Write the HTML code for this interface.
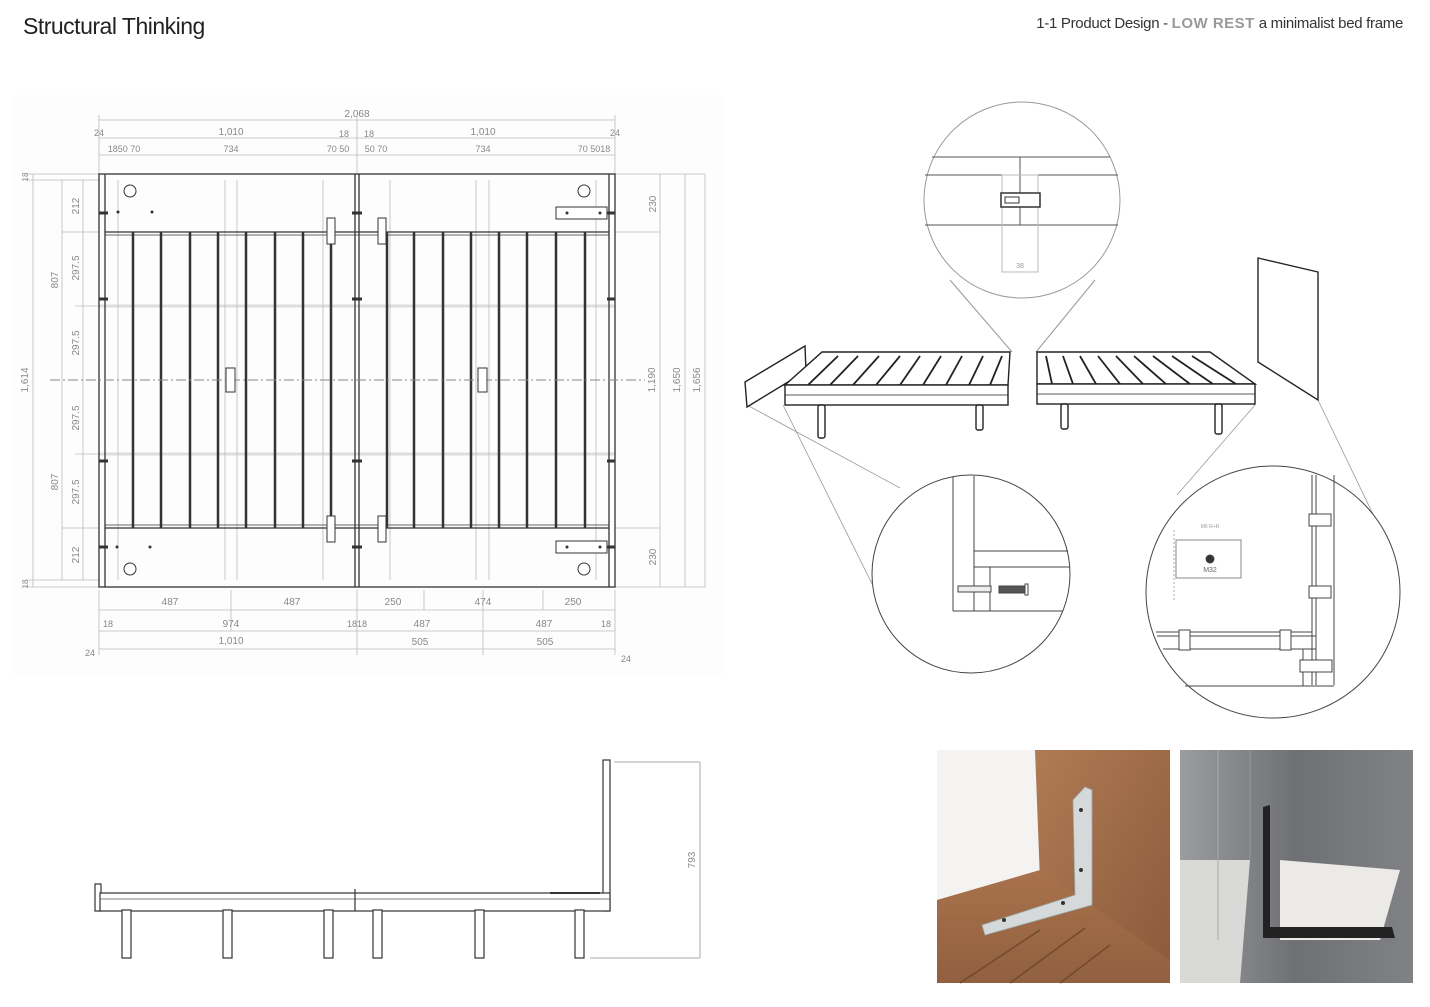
<!DOCTYPE html>
<html><head><meta charset="utf-8"><style>
html,body{margin:0;padding:0;background:#fff;}
body{width:1430px;height:1007px;position:relative;overflow:hidden;font-family:"Liberation Sans",sans-serif;}
.t1{position:absolute;left:23px;top:13px;font-size:23px;color:#222;letter-spacing:-0.5px;}
.t2{position:absolute;right:27px;top:15px;font-size:15px;color:#333;letter-spacing:-0.3px;}
.t2 b{color:#999;font-weight:bold;letter-spacing:0.5px;}
svg{position:absolute;left:0;top:0;}
</style></head><body>
<div class="t1">Structural Thinking</div>
<div class="t2">1-1 Product Design - <b>LOW REST</b> a minimalist bed frame</div>
<svg width="1430" height="1007" viewBox="0 0 1430 1007" font-family="Liberation Sans, sans-serif">
<defs>
<linearGradient id="wood" x1="0" y1="0" x2="1" y2="1"><stop offset="0" stop-color="#b07a55"/><stop offset="1" stop-color="#8a5a3a"/></linearGradient>
<linearGradient id="floor" x1="0" y1="0" x2="0" y2="1"><stop offset="0" stop-color="#a9724c"/><stop offset="1" stop-color="#91603f"/></linearGradient>
<linearGradient id="grey" x1="0" y1="0" x2="1" y2="0"><stop offset="0" stop-color="#9a9c9e"/><stop offset="0.5" stop-color="#6e7073"/><stop offset="1" stop-color="#808285"/></linearGradient>
</defs>
<!-- PLAN VIEW -->
<g fill="none" stroke="#bbb" stroke-width="0.8">
<rect x="12" y="95" width="710" height="580" fill="#fdfdfd" stroke="none"/>
<!-- light grid -->
<line x1="99" y1="306" x2="615" y2="306" stroke="#ddd" stroke-width="3"/>
<line x1="99" y1="454" x2="615" y2="454" stroke="#ddd" stroke-width="3"/>
<line x1="225" y1="180" x2="225" y2="580"/><line x1="237" y1="180" x2="237" y2="580"/>
<line x1="476" y1="180" x2="476" y2="580"/><line x1="489" y1="180" x2="489" y2="580"/>
<line x1="323" y1="180" x2="323" y2="580"/><line x1="390" y1="180" x2="390" y2="580"/>
<line x1="118" y1="180" x2="118" y2="580"/><line x1="596" y1="180" x2="596" y2="580"/>
<!-- dims top -->
<line x1="99" y1="120" x2="615" y2="120"/><text x="357" y="117" font-size="10" fill="#888" stroke="none" text-anchor="middle">2,068</text>
<line x1="99" y1="138" x2="615" y2="138"/>
<line x1="99" y1="155" x2="615" y2="155"/>
<text x="231" y="135" font-size="10" fill="#888" stroke="none" text-anchor="middle">1,010</text>
<text x="483" y="135" font-size="10" fill="#888" stroke="none" text-anchor="middle">1,010</text>
<text x="99" y="136" font-size="9" fill="#888" stroke="none" text-anchor="middle">24</text>
<text x="615" y="136" font-size="9" fill="#888" stroke="none" text-anchor="middle">24</text>
<text x="344" y="137" font-size="9" fill="#888" stroke="none" text-anchor="middle">18</text>
<text x="369" y="137" font-size="9" fill="#888" stroke="none" text-anchor="middle">18</text>
<text x="124" y="152" font-size="9" fill="#888" stroke="none" text-anchor="middle">1850 70</text>
<text x="231" y="152" font-size="9" fill="#888" stroke="none" text-anchor="middle">734</text>
<text x="338" y="152" font-size="9" fill="#888" stroke="none" text-anchor="middle">70 50</text>
<text x="376" y="152" font-size="9" fill="#888" stroke="none" text-anchor="middle">50 70</text>
<text x="483" y="152" font-size="9" fill="#888" stroke="none" text-anchor="middle">734</text>
<text x="594" y="152" font-size="9" fill="#888" stroke="none" text-anchor="middle">70 5018</text>
<line x1="99" y1="115" x2="99" y2="174"/><line x1="615" y1="115" x2="615" y2="174"/><line x1="357" y1="115" x2="357" y2="174"/>
<!-- dims left -->
<line x1="33" y1="174" x2="33" y2="587"/><line x1="62" y1="180" x2="62" y2="580"/><line x1="83" y1="180" x2="83" y2="580"/>
<line x1="25" y1="174" x2="99" y2="174"/><line x1="25" y1="587" x2="99" y2="587"/><line x1="25" y1="180" x2="99" y2="180"/><line x1="25" y1="580" x2="99" y2="580"/>
<line x1="62" y1="232" x2="99" y2="232"/><line x1="62" y1="528" x2="99" y2="528"/><line x1="75" y1="306" x2="99" y2="306"/><line x1="75" y1="454" x2="99" y2="454"/>
<g fill="#888" stroke="none" font-size="10">
<text transform="translate(28,380) rotate(-90)" text-anchor="middle">1,614</text>
<text transform="translate(58,280) rotate(-90)" text-anchor="middle">807</text>
<text transform="translate(58,482) rotate(-90)" text-anchor="middle">807</text>
<text transform="translate(79,206) rotate(-90)" text-anchor="middle">212</text>
<text transform="translate(79,268) rotate(-90)" text-anchor="middle">297.5</text>
<text transform="translate(79,343) rotate(-90)" text-anchor="middle">297.5</text>
<text transform="translate(79,418) rotate(-90)" text-anchor="middle">297.5</text>
<text transform="translate(79,492) rotate(-90)" text-anchor="middle">297.5</text>
<text transform="translate(79,555) rotate(-90)" text-anchor="middle">212</text>
<text transform="translate(28,177) rotate(-90)" text-anchor="middle" font-size="8">18</text>
<text transform="translate(28,584) rotate(-90)" text-anchor="middle" font-size="8">18</text>
<text transform="translate(656,204) rotate(-90)" text-anchor="middle">230</text>
<text transform="translate(656,557) rotate(-90)" text-anchor="middle">230</text>
<text transform="translate(655,380) rotate(-90)" text-anchor="middle">1,190</text>
<text transform="translate(680,380) rotate(-90)" text-anchor="middle">1,650</text>
<text transform="translate(700,380) rotate(-90)" text-anchor="middle">1,656</text>
</g>
<!-- dims right -->
<line x1="660" y1="174" x2="660" y2="587"/><line x1="685" y1="174" x2="685" y2="587"/><line x1="705" y1="174" x2="705" y2="587"/>
<line x1="615" y1="174" x2="705" y2="174"/><line x1="615" y1="587" x2="705" y2="587"/><line x1="615" y1="232" x2="660" y2="232"/><line x1="615" y1="528" x2="660" y2="528"/>
<!-- dims bottom -->
<line x1="99" y1="610" x2="357" y2="610"/><line x1="357" y1="610" x2="615" y2="610"/>
<line x1="99" y1="631" x2="615" y2="631"/><line x1="99" y1="649" x2="615" y2="649"/>
<line x1="99" y1="590" x2="99" y2="655"/><line x1="615" y1="590" x2="615" y2="655"/><line x1="357" y1="590" x2="357" y2="655"/><line x1="231" y1="590" x2="231" y2="631"/><line x1="483" y1="590" x2="483" y2="655"/><line x1="424" y1="590" x2="424" y2="610"/><line x1="543" y1="590" x2="543" y2="610"/>
<g fill="#888" stroke="none" font-size="10" text-anchor="middle">
<text x="170" y="605">487</text><text x="292" y="605">487</text><text x="393" y="605">250</text><text x="483" y="605">474</text><text x="573" y="605">250</text>
<text x="108" y="627" font-size="9">18</text><text x="231" y="627">974</text><text x="357" y="627" font-size="9">1818</text><text x="422" y="627">487</text><text x="544" y="627">487</text><text x="606" y="627" font-size="9">18</text>
<text x="231" y="644">1,010</text><text x="420" y="645">505</text><text x="545" y="645">505</text>
<text x="90" y="656" font-size="9">24</text><text x="626" y="662" font-size="9">24</text>
</g>
</g>
<!-- frame -->
<g fill="none" stroke="#333" stroke-width="1.3">
<rect x="99" y="174" width="516" height="413"/>
<line x1="105" y1="174" x2="105" y2="587"/><line x1="609" y1="174" x2="609" y2="587"/>
<line x1="355" y1="174" x2="355" y2="587"/><line x1="359" y1="174" x2="359" y2="587"/>
<line x1="105" y1="232" x2="609" y2="232"/><line x1="105" y1="235" x2="609" y2="235" stroke-width="0.7"/>
<line x1="105" y1="528" x2="609" y2="528"/><line x1="105" y1="525" x2="609" y2="525" stroke-width="0.7"/>
</g>
<g stroke="#333" stroke-width="2.5">
<line x1="133" y1="232" x2="133" y2="528"/><line x1="161" y1="232" x2="161" y2="528"/><line x1="190" y1="232" x2="190" y2="528"/><line x1="218" y1="232" x2="218" y2="528"/><line x1="246" y1="232" x2="246" y2="528"/><line x1="275" y1="232" x2="275" y2="528"/><line x1="303" y1="232" x2="303" y2="528"/><line x1="331" y1="232" x2="331" y2="528"/>
<line x1="387" y1="232" x2="387" y2="528"/><line x1="414" y1="232" x2="414" y2="528"/><line x1="443" y1="232" x2="443" y2="528"/><line x1="471" y1="232" x2="471" y2="528"/><line x1="499" y1="232" x2="499" y2="528"/><line x1="527" y1="232" x2="527" y2="528"/><line x1="556" y1="232" x2="556" y2="528"/><line x1="585" y1="232" x2="585" y2="528"/>
</g>
<line x1="50" y1="380" x2="645" y2="380" stroke="#888" stroke-width="1" stroke-dasharray="10,3,2,3"/>
<g stroke="#333" stroke-width="1" fill="#fff">
<circle cx="130" cy="191" r="6"/><circle cx="584" cy="191" r="6"/><circle cx="130" cy="569" r="6"/><circle cx="584" cy="569" r="6"/>
<rect x="556" y="207" width="51" height="12"/><rect x="556" y="541" width="51" height="12"/>
<rect x="226" y="368" width="9" height="24"/><rect x="478" y="368" width="9" height="24"/>
<rect x="327" y="218" width="8" height="26"/><rect x="378" y="218" width="8" height="26"/>
<rect x="327" y="516" width="8" height="26"/><rect x="378" y="516" width="8" height="26"/>
</g>
<g stroke="#333" stroke-width="3">
<line x1="99" y1="213" x2="108" y2="213"/><line x1="99" y1="299" x2="108" y2="299"/><line x1="99" y1="461" x2="108" y2="461"/><line x1="99" y1="547" x2="108" y2="547"/>
<line x1="352" y1="213" x2="362" y2="213"/><line x1="352" y1="299" x2="362" y2="299"/><line x1="352" y1="461" x2="362" y2="461"/><line x1="352" y1="547" x2="362" y2="547"/>
<line x1="607" y1="213" x2="615" y2="213"/><line x1="607" y1="299" x2="615" y2="299"/><line x1="607" y1="461" x2="615" y2="461"/><line x1="607" y1="547" x2="615" y2="547"/>
</g>
<g fill="#333"><circle cx="118" cy="212" r="1.5"/><circle cx="152" cy="212" r="1.5"/><circle cx="117" cy="547" r="1.5"/><circle cx="150" cy="547" r="1.5"/><circle cx="567" cy="213" r="1.5"/><circle cx="600" cy="213" r="1.5"/><circle cx="567" cy="547" r="1.5"/><circle cx="600" cy="547" r="1.5"/></g>

<!-- TOP CIRCLE DETAIL -->
<g fill="none" stroke="#999" stroke-width="1">
<line x1="950" y1="280" x2="1012" y2="352"/><line x1="1095" y1="280" x2="1036" y2="352"/>
<circle cx="1022" cy="200" r="98" fill="#fff"/>
</g>
<g fill="none" stroke="#555" stroke-width="1">
<line x1="932" y1="157" x2="1110" y2="157"/><line x1="925" y1="175" x2="1118" y2="175"/><line x1="925" y1="225" x2="1118" y2="225"/>
<line x1="1020" y1="157" x2="1020" y2="225"/>
<rect x="1002" y="175" width="36" height="97" stroke="#bbb"/>
<rect x="1001" y="193" width="39" height="14" stroke="#333" stroke-width="1.5" fill="#fff"/>
<rect x="1005" y="197" width="14" height="6" stroke="#333"/>
</g>
<text x="1020" y="268" font-size="7" fill="#999" text-anchor="middle">38</text>

<!-- PERSPECTIVE -->
<g fill="none" stroke="#999" stroke-width="0.8">
<line x1="747" y1="405" x2="900" y2="488"/><line x1="783" y1="405" x2="900" y2="640"/>
<line x1="1255" y1="405" x2="1177" y2="495"/><line x1="1318" y1="400" x2="1395" y2="560"/>
</g>
<g fill="#fff" stroke="#222" stroke-width="1.4">
<polygon points="745,382 805,346 806,371 747,407"/>
<polygon points="1258,258 1318,272 1318,400 1258,362"/>
<polygon points="822,352 1010,352 1008,385 785,385"/>
<rect x="785" y="385" width="223" height="20"/>
<polygon points="1037,352 1210,352 1255,384 1037,384"/>
<rect x="1037" y="384" width="218" height="20"/>
<rect x="818" y="405" width="7" height="33" rx="2"/><rect x="976" y="405" width="7" height="25" rx="2"/>
<rect x="1061" y="404" width="7" height="25" rx="2"/><rect x="1215" y="404" width="7" height="30" rx="2"/>
</g>
<g stroke="#222" stroke-width="1.8">
<line x1="808" y1="385" x2="838" y2="356"/><line x1="830" y1="385" x2="858" y2="356"/><line x1="853" y1="385" x2="879" y2="356"/><line x1="876" y1="385" x2="900" y2="356"/><line x1="900" y1="385" x2="920" y2="356"/><line x1="923" y1="385" x2="941" y2="356"/><line x1="946" y1="385" x2="962" y2="356"/><line x1="969" y1="385" x2="983" y2="356"/><line x1="990" y1="385" x2="1002" y2="356"/>
<line x1="1046" y1="356" x2="1052" y2="384"/><line x1="1063" y1="356" x2="1073" y2="384"/><line x1="1080" y1="356" x2="1096" y2="384"/><line x1="1098" y1="356" x2="1120" y2="384"/><line x1="1116" y1="356" x2="1143" y2="384"/><line x1="1134" y1="356" x2="1166" y2="384"/><line x1="1153" y1="356" x2="1190" y2="384"/><line x1="1172" y1="356" x2="1213" y2="384"/><line x1="1192" y1="356" x2="1236" y2="384"/>
</g>
<line x1="785" y1="395" x2="1008" y2="395" stroke="#222" stroke-width="0.8"/>
<line x1="1037" y1="394" x2="1255" y2="394" stroke="#222" stroke-width="0.8"/>

<!-- MIDDLE CIRCLE -->
<g fill="none" stroke="#444" stroke-width="1">
<circle cx="971" cy="574" r="99" fill="#fff"/>
<line x1="953" y1="477" x2="953" y2="611"/><line x1="974" y1="476" x2="974" y2="611"/><line x1="990" y1="567" x2="990" y2="611"/>
<line x1="974" y1="551" x2="1068" y2="551"/><line x1="974" y1="567" x2="1070" y2="567"/><line x1="953" y1="611" x2="1063" y2="611"/>
<rect x="958" y="586" width="33" height="6" fill="#eee"/>
<rect x="999" y="586" width="26" height="7" fill="#555"/>
<rect x="1025" y="584" width="3" height="11" fill="#fff"/>
</g>

<!-- RIGHT CIRCLE -->
<g fill="none" stroke="#444" stroke-width="1">
<ellipse cx="1273" cy="592" rx="127" ry="126" fill="#fff"/>
<line x1="1312" y1="475" x2="1312" y2="685"/><line x1="1316" y1="475" x2="1316" y2="685"/><line x1="1334" y1="475" x2="1334" y2="685"/>
<line x1="1156" y1="632" x2="1312" y2="632"/><line x1="1157" y1="636" x2="1316" y2="636"/><line x1="1163" y1="649" x2="1316" y2="649"/>
<line x1="1185" y1="686" x2="1334" y2="686"/><line x1="1303" y1="649" x2="1303" y2="686"/>
<rect x="1176" y="540" width="65" height="38" stroke="#888"/>
<line x1="1174" y1="530" x2="1174" y2="600" stroke="#aaa" stroke-dasharray="2,2"/>
<rect x="1309" y="514" width="22" height="12" fill="#fff"/><rect x="1309" y="586" width="22" height="12" fill="#fff"/><rect x="1300" y="660" width="32" height="12" fill="#fff"/>
<rect x="1179" y="630" width="11" height="20" fill="#fff"/><rect x="1280" y="630" width="11" height="20" fill="#fff"/>
<circle cx="1210" cy="559" r="4" fill="#333"/>
</g>
<text x="1210" y="528" font-size="5" fill="#999" text-anchor="middle">M6 R+R</text>
<text x="1210" y="572" font-size="7" fill="#666" text-anchor="middle">M32</text>

<!-- SIDE VIEW -->
<g fill="#fff" stroke="#333" stroke-width="1.2">
<rect x="95" y="884" width="6" height="27"/>
<rect x="603" y="760" width="7" height="151"/>
<rect x="100" y="893" width="510" height="18"/>
<rect x="122" y="910" width="9" height="48"/><rect x="223" y="910" width="9" height="48"/><rect x="324" y="910" width="9" height="48"/><rect x="373" y="910" width="9" height="48"/><rect x="475" y="910" width="9" height="48"/><rect x="575" y="910" width="9" height="48"/>
</g>
<line x1="100" y1="899" x2="610" y2="899" stroke="#555" stroke-width="0.8"/>
<line x1="355" y1="889" x2="355" y2="911" stroke="#333" stroke-width="1.2"/>
<line x1="550" y1="893" x2="600" y2="893" stroke="#333" stroke-width="2"/>
<g fill="none" stroke="#aaa" stroke-width="1">
<line x1="614" y1="762" x2="700" y2="762"/><line x1="700" y1="762" x2="700" y2="958"/><line x1="590" y1="958" x2="700" y2="958"/>
</g>
<text transform="translate(695,860) rotate(-90)" font-size="10" fill="#888" text-anchor="middle">793</text>

<!-- PHOTOS -->
<rect x="937" y="750" width="233" height="233" fill="#f4f3f1"/>
<polygon points="1035,750 1170,750 1170,983 1140,983 1040,880" fill="url(#wood)"/>
<polygon points="937,900 1040,870 1170,960 1170,983 937,983" fill="url(#floor)"/>
<g stroke="#6e4a30" stroke-width="1.5"><line x1="960" y1="983" x2="1040" y2="930"/><line x1="1010" y1="983" x2="1085" y2="928"/><line x1="1060" y1="983" x2="1110" y2="945"/></g>
<polygon points="1073,800 1085,787 1092,790 1092,905 985,935 982,925 1075,895" fill="#d6d9da" stroke="#9aa" stroke-width="0.8"/>
<g fill="#333"><circle cx="1081" cy="810" r="2"/><circle cx="1081" cy="870" r="2"/><circle cx="1063" cy="903" r="2"/><circle cx="1004" cy="920" r="2"/></g>
<rect x="1180" y="750" width="233" height="233" fill="url(#grey)"/>
<polygon points="1280,860 1400,870 1380,940 1280,940" fill="#eceae6"/>
<polygon points="1180,860 1250,860 1240,983 1180,983" fill="#d9d9d8"/>
<polygon points="1263,807 1270,805 1270,927 1392,927 1395,938 1263,938" fill="#222"/>
<line x1="1250" y1="750" x2="1250" y2="860" stroke="#999"/><line x1="1218" y1="750" x2="1218" y2="940" stroke="#aaa"/>
</svg>
</body></html>
